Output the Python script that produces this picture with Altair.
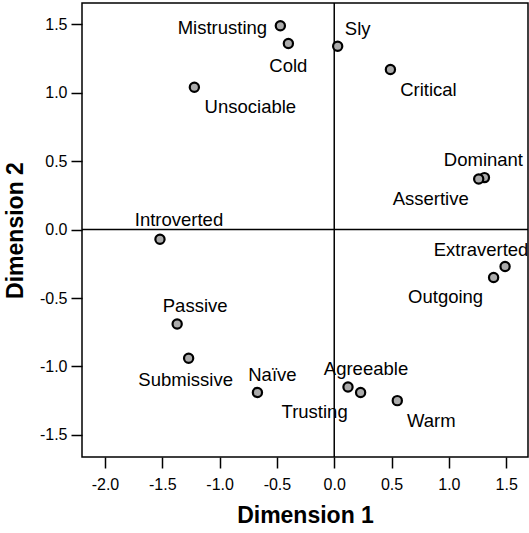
import altair as alt
import pandas as pd

# Trait terms and their coordinates on the two dimensions
terms = ["Mistrusting", "Cold", "Sly", "Critical", "Unsociable", "Dominant",
         "Assertive", "Introverted", "Extraverted", "Outgoing", "Passive",
         "Submissive", "Naïve", "Agreeable", "Trusting", "Warm"]
dim1 = [-0.47, -0.40, 0.03, 0.49, -1.22, 1.31,
        1.26, -1.52, 1.49, 1.39, -1.37,
        -1.27, -0.67, 0.12, 0.23, 0.55]
dim2 = [1.49, 1.36, 1.34, 1.17, 1.04, 0.38,
        0.37, -0.07, -0.27, -0.35, -0.69,
        -0.94, -1.19, -1.15, -1.19, -1.25]

x_ticks = [-2.0, -1.5, -1.0, -0.5, 0.0, 0.5, 1.0, 1.5]
y_ticks = [-1.5, -1.0, -0.5, 0.0, 0.5, 1.0, 1.5]

# pixel offsets of each label from its point
label_offsets = {
    "Mistrusting": (-58, 2), "Cold": (0, 22), "Sly": (20, -17),
    "Critical": (38, 21), "Unsociable": (56, 20), "Dominant": (-1, -18),
    "Assertive": (-48, 20), "Introverted": (19, -19), "Extraverted": (-24, -17),
    "Outgoing": (-48, 20), "Passive": (18, -18), "Submissive": (-3, 22),
    "Naïve": (15, -17), "Agreeable": (18, -18), "Trusting": (-46, 20),
    "Warm": (34, 20),
}

df = pd.DataFrame({"term": terms, "d1": dim1, "d2": dim2})

FONT = "Liberation Sans"

# one-decimal labels written with a plain hyphen for negatives
TICK_LABEL = ("datum.value < 0 ? '-' + format(abs(datum.value), '.1f') "
              ": format(datum.value, '.1f')")

x_scale = alt.Scale(domain=[-2.2, 1.69], nice=False, zero=False)
y_scale = alt.Scale(domain=[-1.662, 1.656], nice=False, zero=False)

x_axis = alt.Axis(values=x_ticks, labelExpr=TICK_LABEL, grid=False, domain=False,
                  tickColor="black", tickSize=11, tickWidth=1.5,
                  labelFont=FONT, labelFontSize=16, labelColor="black",
                  labelPadding=8, title="Dimension 1", titleFont=FONT,
                  titleFontSize=23, titleFontWeight="bold", titleColor="black",
                  titlePadding=12)
y_axis = alt.Axis(values=y_ticks, labelExpr=TICK_LABEL, grid=False, domain=False,
                  tickColor="black", tickSize=11, tickWidth=1.5,
                  labelFont=FONT, labelFontSize=16, labelColor="black",
                  labelPadding=4, title="Dimension 2", titleFont=FONT,
                  titleFontSize=23, titleFontWeight="bold", titleColor="black",
                  titlePadding=12)

X = alt.X("d1:Q", scale=x_scale, axis=x_axis)
Y = alt.Y("d2:Q", scale=y_scale, axis=y_axis)

base = alt.Chart(df)

# reference lines through the origin
zero_x = base.transform_aggregate(count="count()").transform_calculate(
    d1="0").mark_rule(color="black", strokeWidth=1.5).encode(x=X)
zero_y = base.transform_aggregate(count="count()").transform_calculate(
    d2="0").mark_rule(color="black", strokeWidth=1.5).encode(y=Y)

points = base.mark_point(
    shape="circle", filled=True, size=85, fill="#ababab",
    stroke="black", strokeWidth=2.2, opacity=1,
).encode(x=X, y=Y)

labels = []
for t in terms:
    dx, dy = label_offsets[t]
    labels.append(
        base.transform_filter(alt.datum.term == t).mark_text(
            font=FONT, fontSize=18.5, color="black", dx=dx, dy=dy,
            align="center", baseline="middle",
        ).encode(x=X, y=Y, text="term:N")
    )

chart = alt.layer(zero_x, zero_y, points, *labels).properties(
    width=446, height=454,
    background="white",
    autosize=alt.AutoSizeParams(type="none"),
    padding={"left": 82, "top": 3, "right": 1, "bottom": 76},
).configure_view(stroke="black", strokeWidth=1.5, fill="white")

chart.save("out.html", embed_options={"renderer": "svg", "actions": False})
